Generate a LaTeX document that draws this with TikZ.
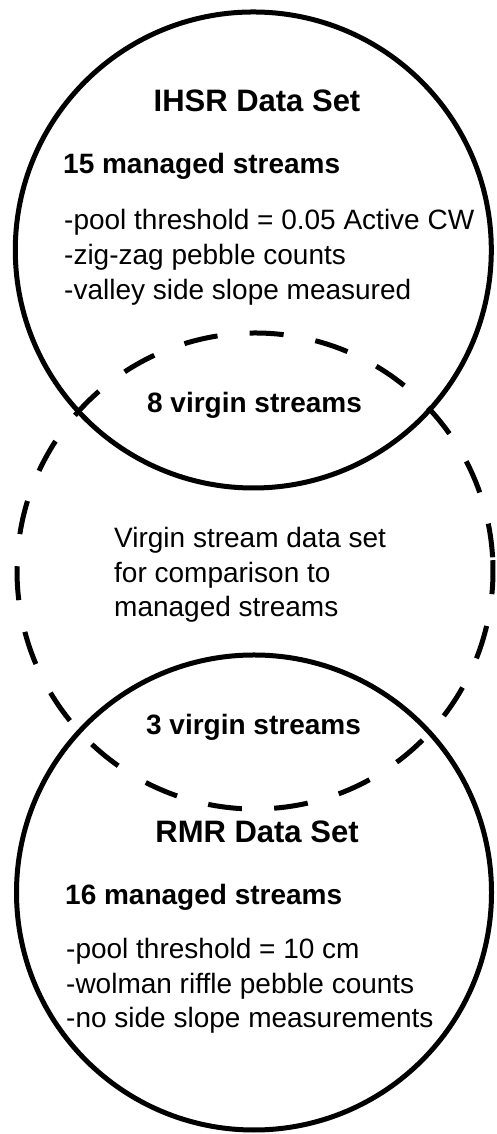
\documentclass[tikz,border=0pt]{standalone}
\usepackage{fontspec}
\setmainfont{Liberation Sans}
\begin{document}
\begin{tikzpicture}[x=1pt,y=1pt,
  ring/.style={line width=5pt, draw=black},
  dashring/.style={line width=5pt, draw=black, dash pattern=on 34pt off 32.3pt},
  title/.style={font=\fontsize{31}{37}\selectfont\bfseries, inner sep=0pt, anchor=base},
  head/.style={font=\fontsize{28}{34}\selectfont\bfseries, inner sep=0pt},
  body/.style={font=\fontsize{28}{34}\selectfont, inner sep=0pt, anchor=base west}]
\useasboundingbox (0,0) rectangle (496,1134);

% the three data sets
\coordinate (ihsr) at (253.3,884);
\coordinate (virgin) at (255,563);
\coordinate (rmr) at (254,241.5);
\draw[ring] (ihsr) circle[radius=238];
\draw[ring] (rmr) circle[radius=237.5];
\draw[dashring] (virgin) ++(3.3:238) arc[start angle=3.3, delta angle=360, radius=238];

% IHSR data set
\node[title] (ihsrT) at (257,1022) {IHSR Data Set};
\node[head, anchor=base west] (ihsrN) at (63,960) {15 managed streams};
\node[body] (ihsrA) at (64,904) {-pool threshold = 0.05 Active CW};
\node[body] (ihsrB) at (64,869) {-zig-zag pebble counts};
\node[body] (ihsrC) at (64,834) {-valley side slope measured};

% virgin streams
\node[head, anchor=base] (virgTop) at (254.5,721) {8 virgin streams};
\node[body] (virgA) at (114,586) {Virgin stream data set};
\node[body] (virgB) at (114,551) {for comparison to};
\node[body] (virgC) at (114,517) {managed streams};
\node[head, anchor=base] (virgBot) at (253.5,399) {3 virgin streams};

% RMR data set
\node[title] (rmrT) at (257,291) {RMR Data Set};
\node[head, anchor=base west] (rmrN) at (65,229) {16 managed streams};
\node[body] (rmrA) at (66,175) {-pool threshold = 10 cm};
\node[body] (rmrB) at (66,140) {-wolman riffle pebble counts};
\node[body] (rmrC) at (66,106) {-no side slope measurements};
\end{tikzpicture}
\end{document}
